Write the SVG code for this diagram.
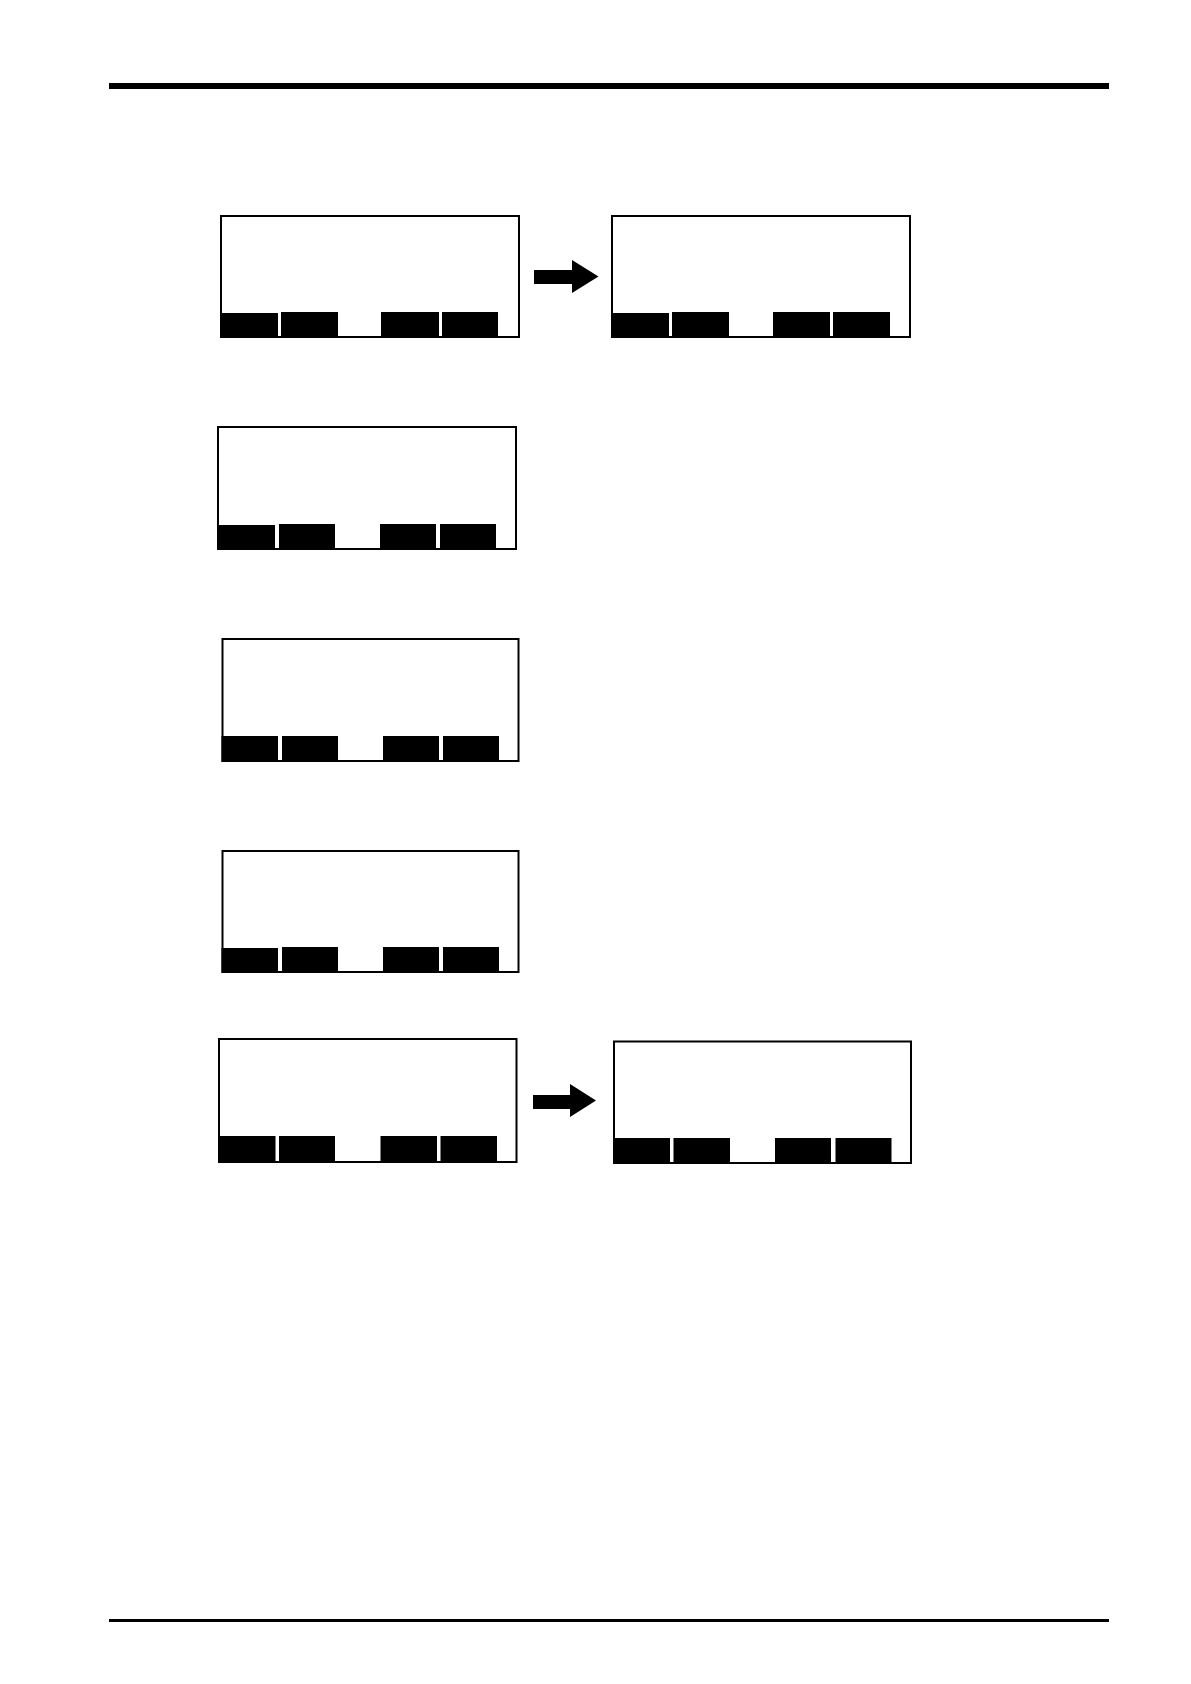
<svg xmlns="http://www.w3.org/2000/svg" width="1191" height="1684" viewBox="0 0 1191 1684">
<style>
.frame{fill:#fff;stroke:#000;stroke-width:2}
.key{fill:#000}
.arrow{fill:#000}
</style>
<rect x="0" y="0" width="1191" height="1684" fill="#fff"/>
<rect x="109" y="83" width="1000" height="6" fill="#000"/>
<rect x="109" y="1619" width="1000" height="3" fill="#000"/>
<g id="screen1">
<rect class="frame" x="221" y="216" width="298" height="121"/>
<rect class="key" x="220" y="313" width="58" height="25"/>
<rect class="key" x="281" y="312" width="57" height="26"/>
<rect class="key" x="381" y="312" width="58" height="26"/>
<rect class="key" x="442" y="312" width="56" height="26"/>
</g>
<g id="screen2">
<rect class="frame" x="612" y="216" width="298" height="121"/>
<rect class="key" x="611" y="313" width="58" height="25"/>
<rect class="key" x="672" y="312" width="57" height="26"/>
<rect class="key" x="773" y="312" width="57" height="26"/>
<rect class="key" x="833" y="312" width="57" height="26"/>
</g>
<g id="screen3">
<rect class="frame" x="218" y="427" width="298" height="122"/>
<rect class="key" x="219" y="525" width="56" height="25"/>
<rect class="key" x="279" y="524" width="56" height="26"/>
<rect class="key" x="380" y="524" width="56" height="26"/>
<rect class="key" x="440" y="524" width="56" height="26"/>
</g>
<g id="screen4">
<rect class="frame" x="222.5" y="639" width="296" height="122"/>
<rect class="key" x="221.5" y="736" width="56.5" height="26"/>
<rect class="key" x="282" y="736" width="56" height="26"/>
<rect class="key" x="383" y="736" width="56" height="26"/>
<rect class="key" x="443" y="736" width="56" height="26"/>
</g>
<g id="screen5">
<rect class="frame" x="222.5" y="851" width="296" height="121"/>
<rect class="key" x="221.5" y="948" width="56.5" height="25"/>
<rect class="key" x="282" y="947" width="56" height="26"/>
<rect class="key" x="383" y="947" width="56" height="26"/>
<rect class="key" x="443" y="947" width="56" height="26"/>
</g>
<g id="screen6">
<rect class="frame" x="219" y="1039" width="297.5" height="123"/>
<rect class="key" x="218" y="1136" width="57.5" height="27"/>
<rect class="key" x="279" y="1136" width="56" height="27"/>
<rect class="key" x="380.5" y="1136" width="56.5" height="27"/>
<rect class="key" x="440.5" y="1136" width="56.5" height="27"/>
</g>
<g id="screen7">
<rect class="frame" x="614" y="1041.5" width="297" height="121.5"/>
<rect class="key" x="613.5" y="1138" width="56.5" height="26"/>
<rect class="key" x="673.5" y="1138" width="56.5" height="26"/>
<rect class="key" x="775" y="1138" width="56" height="26"/>
<rect class="key" x="835.5" y="1138" width="56" height="26"/>
</g>
<g id="connectors">
<polygon class="arrow" points="534,270 572,270 572,260 598.5,276.5 572,293 572,284 534,284"/>
<polygon class="arrow" points="533,1095 570,1095 570,1084 596,1100.5 570,1117 570,1109 533,1109"/>
</g>
</svg>
